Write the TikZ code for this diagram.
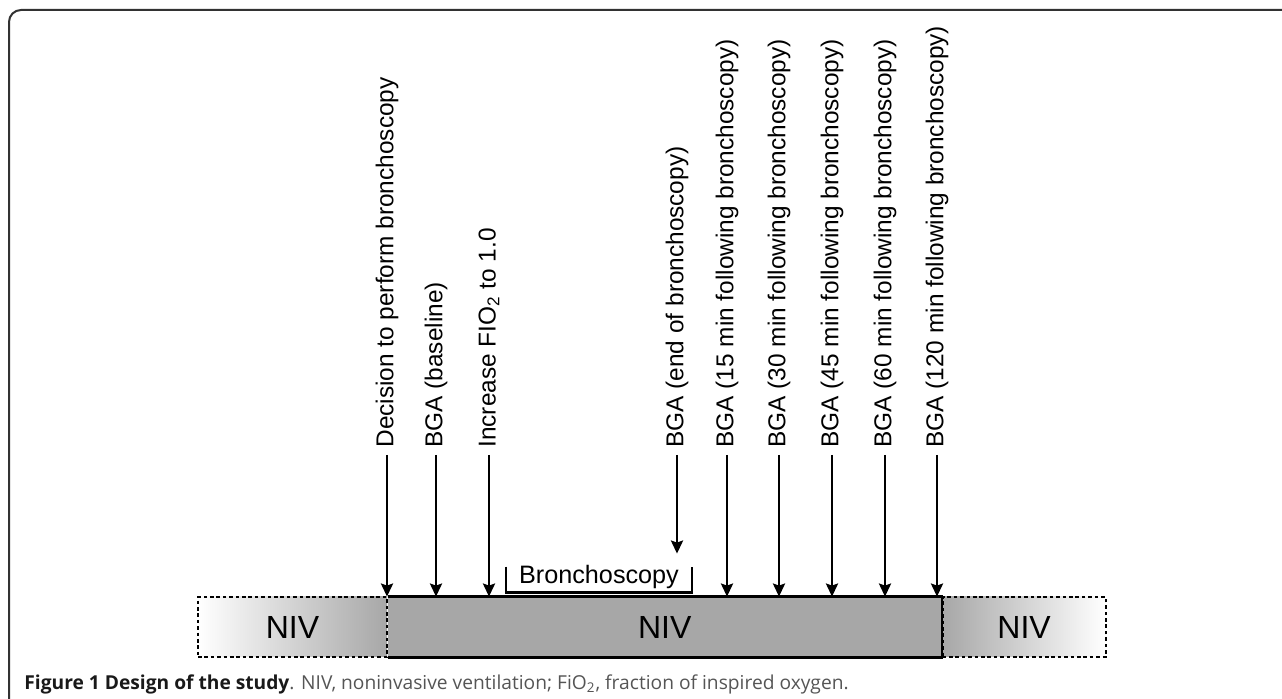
\documentclass[tikz,border=0pt]{standalone}
\usepackage{fontspec}
\setmainfont{Liberation Sans}
\newfontfamily\capfont{Open Sans}
\usetikzlibrary{positioning,arrows.meta}

\definecolor{barGray}{RGB}{167,167,167}
\definecolor{frameGray}{RGB}{50,50,50}
\definecolor{capGray}{RGB}{85,85,85}

\tikzset{
    lbl/.style={rotate=90, anchor=west, inner sep=0pt, font=\fontsize{12.2pt}{14pt}\selectfont},
    arr/.style={line width=1.3pt, -{Stealth[length=6.5pt,width=6pt,inset=1pt]}},
    bar/.style={inner sep=0pt, minimum height=30pt, font=\fontsize{16pt}{18pt}\selectfont},
    dashbox/.style={bar, draw, line width=0.9pt, dash pattern=on 1.8pt off 1.4pt}
}

\begin{document}
\begin{tikzpicture}[x=0.5pt, y=-0.5pt]
    \useasboundingbox (0,0) rectangle (1282,699);

    % Frame
    \draw[frameGray, line width=1pt, rounded corners=6pt] (9,699) -- (9,10) -- (1282,10);

    % NIV bars
    \node[dashbox, left color=white, right color=barGray, minimum width=94.5pt] (prebar) at (292.5,627) {NIV};
    \node[bar, fill=barGray, minimum width=276.5pt, right=0pt of prebar] (midbar) {NIV};
    \node[dashbox, left color=barGray, right color=white, minimum width=81.5pt, right=0pt of midbar] (postbar) {NIV};
    \draw[line width=1.2pt] (midbar.north west) -- (midbar.north east) -- (midbar.south east) -- (midbar.south west);

    % Bronchoscopy bracket
    \node[inner sep=0pt, minimum width=92.5pt, minimum height=15.5pt, font=\fontsize{12.6pt}{14pt}\selectfont] (bronch) at (599,576.5) {Bronchoscopy};
    \draw[line width=1.3pt] ([yshift=-3pt]bronch.north west) -- (bronch.south west) -- (bronch.south east) -- ([yshift=-3pt]bronch.north east);

    % Events before and during bronchoscopy
    \node[lbl] (decide) at (387,448) {Decision to perform bronchoscopy};
    \node[lbl] (base) at (436,448) {BGA (baseline)};
    \node[lbl] (fio) at (489,448) {Increase FIO\textsubscript{2} to 1.0};
    \node[lbl] (endb) at (677,448) {BGA (end of bronchoscopy)};
    \foreach \n in {decide, base, fio}
        \draw[arr] ([yshift=-3.5pt]\n.west) -- (\n.west |- midbar.north);
    \draw[arr] ([yshift=-3.5pt]endb.west) -- ([yshift=3.5pt]endb.west |- bronch.north);

    % Follow-up blood gas analyses
    \foreach \x/\t [count=\i] in {727/15, 779/30, 832/45, 885/60, 937/120} {
        \node[lbl] (bga\i) at (\x,448) {BGA (\t\ min following bronchoscopy)};
        \draw[arr] ([yshift=-3.5pt]bga\i.west) -- (bga\i.west |- midbar.north);
    }

    % Caption
    \node[anchor=base west, inner sep=0pt, font=\capfont\fontsize{9.6pt}{11pt}\selectfont] (caption) at (24,690)
        {\textcolor{black!90}{\bfseries Figure 1 Design of the study}\textcolor{capGray}{. NIV, noninvasive ventilation; FiO\textsubscript{2}, fraction of inspired oxygen.}};
\end{tikzpicture}
\end{document}
